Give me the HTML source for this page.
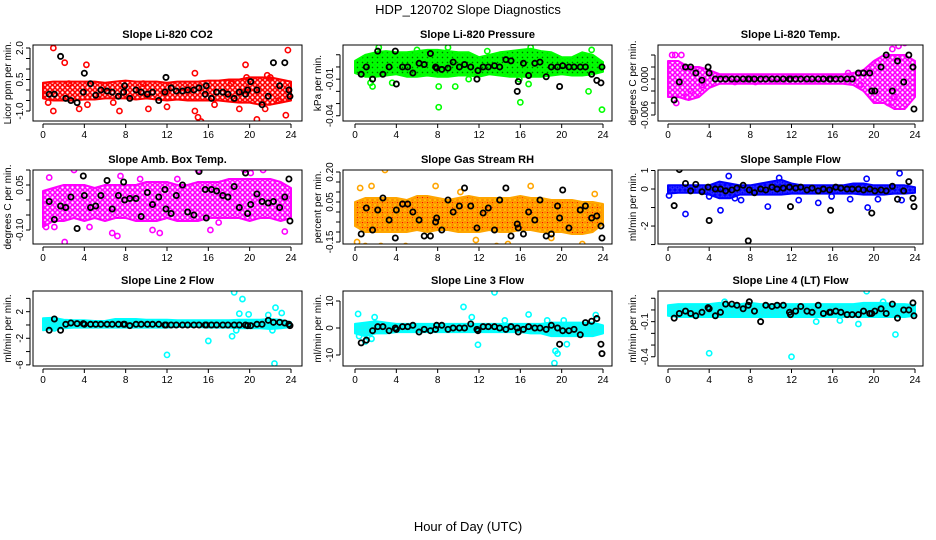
<!DOCTYPE html>
<html><head><meta charset="utf-8"><style>
html,body{margin:0;padding:0;background:#fff}
svg{display:block;font-family:"Liberation Sans",sans-serif}
</style></head><body>
<svg id="chart" width="936" height="540" viewBox="0 0 936 540" xmlns="http://www.w3.org/2000/svg">
<defs>
<pattern id="pt-red" width="5" height="5" patternUnits="userSpaceOnUse"><rect width="5" height="5" fill="#fff"/><circle cx="2.5" cy="2.5" r="2" fill="none" stroke="#ff0000" stroke-width="1.6"/></pattern>
<pattern id="pt-green" width="5" height="5" patternUnits="userSpaceOnUse"><rect width="5" height="5" fill="#00ee00"/><circle cx="2.5" cy="2.5" r="2" fill="none" stroke="#00ff00" stroke-width="1.4"/><circle cx="2.5" cy="2.5" r="0.7" fill="#006600"/></pattern>
<pattern id="pt-magenta" width="5" height="5" patternUnits="userSpaceOnUse"><rect width="5" height="5" fill="#fff"/><circle cx="2.5" cy="2.5" r="2" fill="none" stroke="#ff00ff" stroke-width="1.6"/></pattern>
<pattern id="pt-orange" width="5" height="5" patternUnits="userSpaceOnUse"><rect width="5" height="5" fill="#ffcc00"/><circle cx="2.5" cy="2.5" r="2" fill="none" stroke="#ff8c00" stroke-width="1.2"/><circle cx="2.5" cy="2.5" r="0.8" fill="#ff0000"/></pattern>
<pattern id="pt-blue" width="5" height="5" patternUnits="userSpaceOnUse"><rect width="5" height="5" fill="#0000ff"/><circle cx="2.5" cy="2.5" r="1.6" fill="none" stroke="#3333ff" stroke-width="1.2"/></pattern>
<pattern id="pt-cyan" width="5" height="5" patternUnits="userSpaceOnUse"><rect width="5" height="5" fill="#00ffff"/><circle cx="2.5" cy="2.5" r="1.5" fill="none" stroke="#22eeee" stroke-width="1"/></pattern>
</defs>
<text x="468" y="14" text-anchor="middle" font-size="13">HDP_120702  Slope Diagnostics</text>
<text x="468" y="531" text-anchor="middle" font-size="13">Hour of Day (UTC)</text>
</svg>
<script>
// shared sample hours for the black (hourly average) points
const blackHours = [0.6,1.1,1.7,2.2,2.7,3.3,3.9,4.0,4.6,5.1,5.6,6.2,6.7,7.3,7.8,7.9,8.4,9.0,9.5,10.1,10.6,11.2,11.8,11.9,12.4,12.9,13.5,14.0,14.6,15.1,15.7,15.8,16.3,16.8,17.4,17.9,18.5,19.0,19.6,19.8,20.1,20.7,21.2,21.8,22.3,22.9,23.4,23.8,23.9];
const bandHours = [0,1,2,3,4,5,6,7,8,9,10,11,12,13,14,15,16,17,18,19,20,21,22,23,24];
const xTicks = [0,4,8,12,16,20,24];

// Panel 1: CO2
const co2Lo = [-0.4,-0.5,-0.5,-0.5,-0.45,-0.45,-0.4,-0.4,-0.4,-0.45,-0.4,-0.45,-0.5,-0.45,-0.5,-0.5,-0.5,-0.5,-0.55,-0.6,-0.6,-0.7,-0.7,-0.6,-0.5];
const co2Hi = [0.35,0.4,0.4,0.4,0.4,0.4,0.35,0.4,0.45,0.4,0.4,0.4,0.35,0.4,0.4,0.4,0.45,0.45,0.5,0.5,0.6,0.6,0.6,0.5,0.4];
const co2ScX = [1.0,1.0,2.1,2.5,3.5,4.2,4.3,7.4,10.2,12.0,14.7,14.7,15.0,15.3,16.6,19.0,19.6,19.7,20.7,21.5,21.7,22.0,23.5,23.7,0.5,6.8,9.7,18.2,22.8];
const co2ScY = [2.0,-1.0,1.3,0.3,-0.9,1.2,-0.7,-1.0,-0.9,-0.8,0.8,-1.0,-1.3,-1.5,-0.7,-0.9,1.2,0.6,-1.4,-0.9,0.7,0.6,-1.2,1.9,-0.6,-0.6,0.3,0.3,-0.5];
const co2Black = [-0.2,-0.2,1.6,-0.4,-0.5,-0.6,-0.1,0.8,0.3,-0.25,0,-0.05,-0.1,-0.3,-0.1,0.2,-0.4,0,-0.1,-0.2,-0.1,-0.5,-0.1,0.6,0.1,-0.05,-0.05,0,0,0.1,-0.2,0.2,-0.4,-0.1,-0.1,-0.2,-0.4,-0.1,-0.2,0,0.4,0,-0.7,-0.3,1.3,0.2,1.3,0,-0.3];
// Panel 2: Pressure
const prLo = [-0.005,-0.008,-0.008,-0.007,-0.006,-0.008,-0.008,-0.007,-0.008,-0.008,-0.007,-0.007,-0.008,-0.006,-0.007,-0.008,-0.008,-0.008,-0.008,-0.007,-0.006,-0.007,-0.007,-0.006,-0.004];
const prHi = [0.005,0.01,0.012,0.013,0.012,0.012,0.013,0.014,0.014,0.013,0.012,0.012,0.008,0.01,0.012,0.013,0.014,0.015,0.013,0.012,0.008,0.008,0.012,0.01,0.004];
const prScX = [1.5,1.7,3.6,7.9,8.1,8.1,9.0,9.7,11.0,15.9,16.0,16.8,22.6,23.9,2.3,6.0,12.8,17.0,22.9];
const prScY = [-0.013,-0.016,-0.013,-0.048,-0.033,-0.016,0.016,-0.016,-0.01,-0.01,-0.029,-0.014,-0.02,-0.035,0.016,0.014,0.013,0.016,0.014];
const prBlack = [-0.006,0,-0.01,0.013,-0.006,0,0.013,-0.014,0,0,-0.005,0.003,0.002,0.011,0,-0.001,-0.002,-0.001,0.004,0,0.002,0,-0.01,-0.003,0,0,0.001,0,0.006,0.005,-0.02,-0.012,0.003,-0.007,0.003,0.004,-0.008,0,0,-0.016,0.001,0,0,0,0,-0.006,-0.011,-0.013,0];
// Panel 3: Temp
const tpLo = [-0.003,-0.003,-0.0035,-0.003,-0.0015,-0.0008,-0.0008,-0.0008,-0.0008,-0.0008,-0.0008,-0.0008,-0.0008,-0.0008,-0.0008,-0.0008,-0.0008,-0.0008,-0.001,-0.002,-0.004,-0.004,-0.005,-0.005,-0.003];
const tpHi = [0.003,0.003,0.002,0.002,0.0015,0.0008,0.0008,0.0008,0.0008,0.0008,0.0008,0.0008,0.0008,0.0008,0.0008,0.0008,0.0008,0.0008,0.001,0.0015,0.003,0.004,0.004,0.004,0.003];
const tpScX = [0.4,0.7,0.8,1.3,1.8,2.2,3.3,6.5,8.5,17.5,18.7,21.0,21.4,22.0,22.8,23.0,23.3,23.7,22.4,21.8];
const tpScY = [0.004,0.004,-0.004,0.004,-0.003,-0.002,-0.001,-0.0005,-0.0005,0.001,-0.001,0.008,-0.004,-0.003,-0.0095,0.006,0.007,0.007,0.0055,0.005];
const tpBlack = [-0.0035,-0.0005,0.002,0.002,0.001,-0.0002,0.002,0.001,0,0,0,0,0,0,0,0,0,0,0,0,0,0,0,0,0,0,0,0,0,0,0,0,0,0,0,0,0.001,0.001,0.001,-0.002,-0.002,0.002,0.004,-0.002,0.003,-0.0005,0.004,0.002,-0.005];
// Panel 4: Amb box temp
const abLo = [-0.09,-0.07,-0.07,-0.06,-0.07,-0.06,-0.07,-0.06,-0.06,-0.07,-0.07,-0.07,-0.06,-0.07,-0.07,-0.07,-0.06,-0.06,-0.06,-0.06,-0.07,-0.06,-0.06,-0.07,-0.06];
const abHi = [0.03,0.04,0.05,0.05,0.05,0.04,0.05,0.05,0.05,0.05,0.06,0.06,0.06,0.05,0.05,0.06,0.06,0.06,0.07,0.07,0.07,0.07,0.07,0.06,0.04];
const abScX = [0.3,0.6,2.1,3.0,4.5,6.7,7.2,10.6,11.1,11.3,15.0,16.2,19.5,20.1,21.3,23.4,1.1,7.5,13.0,17.0,9.4];
const abScY = [-0.09,0.075,-0.14,0.1,-0.09,-0.11,-0.12,-0.1,0.11,-0.11,0.1,-0.1,0.1,0.09,0.1,-0.105,-0.09,0.08,0.07,-0.075,0.07];
const abBlack = [-0.005,-0.065,-0.02,-0.025,0.01,-0.095,0.08,0.015,-0.025,-0.02,0.015,0.065,-0.03,0.015,0.06,0.0,0.005,0.005,-0.055,0.025,-0.015,0.01,0.035,-0.03,-0.045,0.015,0.05,-0.04,-0.05,0.095,0.035,-0.06,0.035,0.03,0.015,0.01,0.045,-0.025,0.09,-0.045,-0.015,0.02,-0.005,-0.01,-0.005,-0.025,0.01,0.07,-0.07];
// Panel 5: Gas stream RH
const rhLo = [-0.07,-0.1,-0.1,-0.1,-0.1,-0.1,-0.09,-0.1,-0.09,-0.09,-0.1,-0.1,-0.1,-0.09,-0.1,-0.1,-0.09,-0.09,-0.1,-0.1,-0.1,-0.11,-0.11,-0.1,-0.06];
const rhHi = [0.05,0.07,0.07,0.07,0.07,0.06,0.08,0.08,0.07,0.06,0.07,0.08,0.07,0.07,0.07,0.07,0.08,0.07,0.07,0.06,0.06,0.06,0.05,0.05,0.04];
const rhScX = [0.2,0.5,1.0,1.6,2.5,2.9,4.2,4.9,6.4,7.8,10.2,11.7,12.3,13.7,14.8,15.3,17.0,19.0,22.0,23.2];
const rhScY = [-0.15,0.12,-0.17,0.13,-0.17,0.21,-0.19,-0.17,-0.18,0.13,0.1,-0.14,-0.21,-0.17,-0.16,-0.18,0.13,-0.13,-0.16,0.09];
const rhBlack = [-0.11,0.02,-0.09,0.01,0.07,-0.04,-0.13,0.01,0.04,0.04,0,-0.04,-0.12,-0.12,-0.05,-0.03,-0.09,0.06,0.0,0.03,0.12,0.03,-0.08,-0.18,-0.005,0.02,-0.09,0.06,0.12,-0.12,-0.06,-0.08,-0.11,0.0,-0.04,0.06,-0.12,-0.11,0.03,-0.03,0.11,-0.08,-0.18,0.01,0.03,-0.03,-0.02,-0.07,-0.13];
// Panel 6: Sample flow
const sfLo = [-0.25,-0.2,-0.2,-0.2,-0.3,-0.5,-0.5,-0.3,-0.3,-0.3,-0.3,-0.3,-0.25,-0.25,-0.25,-0.25,-0.25,-0.25,-0.25,-0.3,-0.3,-0.3,-0.25,-0.25,-0.2];
const sfHi = [0.2,0.2,0.2,0.2,0.2,0.4,0.3,0.2,0.2,0.3,0.4,0.5,0.3,0.2,0.2,0.2,0.2,0.2,0.3,0.3,0.2,0.2,0.2,0.2,0.1];
const sfScX = [0.1,1.7,5.1,5.9,6.5,7.1,9.7,12.7,14.6,15.9,17.7,19.4,20.4,22.5,22.7,4.0,10.8,19.3];
const sfScY = [-0.35,-1.35,-1.15,0.7,-0.5,-0.6,-0.95,-0.6,-0.75,-0.4,-0.55,-1.0,-0.55,0.85,-0.6,-0.4,0.6,0.55];
const sfBlack = [-0.9,1.05,0.3,-0.1,0.25,-0.15,0.1,-1.7,0,0,-0.1,-0.05,0.05,0.2,-2.8,-0.05,-0.2,0,-0.05,0.1,0,0.05,0.1,-0.95,0.05,0.1,-0.05,0.05,-0.1,0,-0.05,-1.15,0.1,0.05,0,0,0,-0.05,0,-1.3,-0.1,-0.05,-0.1,0.15,-0.55,-0.1,0.4,-0.5,-0.95];
// Panel 7: Line 2 flow
const l2Lo = [-0.8,-0.6,-0.5,-0.4,-0.4,-0.4,-0.4,-0.4,-0.4,-0.4,-0.4,-0.4,-0.4,-0.3,-0.3,-0.3,-0.4,-0.4,-0.4,-0.5,-0.5,-0.5,-0.6,-0.5,-0.3];
const l2Hi = [1.0,1.1,0.8,0.7,0.7,0.6,0.6,0.9,0.9,0.9,0.8,0.8,0.8,0.7,0.7,0.7,0.7,0.7,0.7,0.8,0.8,0.8,0.9,0.8,0.4];
const l2ScX = [1.1,12.0,16.0,18.3,18.5,18.7,19.0,19.3,19.9,21.8,22.2,22.4,22.5,23.1];
const l2ScY = [-0.5,-4.5,-2.4,-1.7,4.9,-0.8,1.7,3.9,1.6,1.5,-0.8,-5.8,2.6,1.8];
const l2Black = [-0.8,0.9,-0.8,0.1,0.3,0.2,0.2,0.1,0.1,0.1,0.1,0.1,0.1,0.1,0.1,0.1,-0.1,0.1,0.1,0.1,0.1,0.1,0,0,0,0,0,0,0,0,0,0,0,0,0,0,0,0,0,-0.1,-0.1,0.1,0.1,0.7,0.4,0.4,0.3,0.1,-0.1];
// Panel 8: Line 3 flow
const l3Lo = [-2,-3,-2,-2,-1.5,-1.5,-1.5,-1.5,-1.5,-1.5,-1.5,-1.5,-1.5,-1.5,-1.5,-1.5,-1.5,-2,-2,-3,-3,-3,-3,-3,-2];
const l3Hi = [1.5,2.0,2.5,2.0,1.5,1.5,1.5,1.5,1.5,1.5,1.5,1.5,1.5,1.5,1.5,1.5,1.5,1.5,1.5,2.0,2.0,2.0,2.0,2.0,1.0];
const l3ScX = [0.3,0.4,1.0,1.6,1.9,10.5,11.3,11.9,13.5,14.5,16.8,19.3,19.4,19.6,20.2,20.5,23.3,18.6];
const l3ScY = [5.2,-3,-5,-4,4,7.8,4,-6.2,13.2,2.8,5,-13,-8.5,-9.5,2.8,-6,4.8,2.8];
const l3Black = [-5.5,-4.5,-1,0.5,0.5,-1,0,-0.5,0.5,0.5,1,-1.5,-0.5,-1,-0.5,1,1,-0.5,0,0,0,1.5,-0.5,-1,0.5,0.5,0.5,0,-0.5,0.5,0,-1.5,-0.5,0.5,0,0,-0.5,1,0,-6,-1,-1,-0.5,-2.5,2,2.5,3.5,-6,-9.5];
// Panel 9: Line 4 (LT) flow
const l4Lo = [-0.05,-0.06,-0.06,-0.06,-0.06,-0.06,-0.06,-0.06,-0.06,-0.06,-0.06,-0.06,-0.06,-0.06,-0.06,-0.06,-0.06,-0.06,-0.06,-0.06,-0.06,-0.06,-0.06,-0.06,-0.05];
const l4Hi = [0.04,0.05,0.05,0.05,0.05,0.06,0.05,0.05,0.06,0.05,0.05,0.05,0.05,0.05,0.05,0.05,0.05,0.05,0.05,0.06,0.06,0.06,0.05,0.05,0.04];
const l4ScX = [4.0,12.0,19.9,19.3,22.1,18.5,5.5,14.4,16.7,20.9];
const l4ScY = [-0.37,-0.4,-0.51,0.16,-0.21,-0.12,0.07,-0.1,-0.09,0.07];
const l4Black = [-0.07,-0.03,-0.01,-0.03,-0.05,-0.02,0.02,0.01,-0.05,-0.02,0.05,0.05,0.04,0.01,0.04,0.07,-0.01,-0.1,0.04,0.03,0.04,0.04,-0.02,-0.04,-0.01,0.03,-0.01,-0.02,0.04,-0.03,-0.02,-0.02,-0.01,-0.02,-0.04,-0.04,-0.04,-0.01,-0.03,-0.03,-0.01,0.01,-0.03,0.05,-0.07,0,0,0.06,-0.05];

// tick values / labels
const p1Ticks=[-1,-0.5,0,0.5,1,1.5,2], p1Labels=[[2,"2.0"],[0.5,"0.5"],[-1,"-1.0"]];
const p2Ticks=[-0.04,-0.03,-0.02,-0.01,0,0.01], p2Labels=[[-0.01,"-0.01"],[-0.04,"-0.04"]];
const p3Ticks=[-0.006,-0.004,-0.002,0,0.002,0.004], p3Labels=[[0,"0.000"],[-0.006,"-0.006"]];
const p4Ticks=[-0.1,-0.05,0,0.05,0.1], p4Labels=[[0.05,"0.05"],[-0.1,"-0.10"]];
const p5Ticks=[-0.15,-0.1,-0.05,0,0.05,0.1,0.15,0.2], p5Labels=[[0.2,"0.20"],[0.05,"0.05"],[-0.15,"-0.15"]];
const p6Ticks=[-3,-2,-1,0,1], p6Labels=[[1,"1"],[0,"0"],[-2,"-2"]];
const p7Ticks=[-6,-4,-2,0,2,4], p7Labels=[[2,"2"],[-2,"-2"],[-6,"-6"]];
const p8Ticks=[-10,0,10], p8Labels=[[10,"10"],[0,"0"],[-10,"-10"]];
const p9Ticks=[-0.4,-0.3,-0.2,-0.1,0,0.1], p9Labels=[[-0.1,"-0.1"],[-0.4,"-0.4"]];

const svg=document.getElementById('chart');
const NS='http://www.w3.org/2000/svg';
function mk(tag,attrs,parent){const e=document.createElementNS(NS,tag);for(const k in attrs)e.setAttribute(k,attrs[k]);(parent||svg).appendChild(e);return e;}

const cols=[{l:33,r:302,x0:43,x1:291},{l:343,r:612,x0:355,x1:603},{l:658,r:923,x0:668,x1:915}];
const rows=[{t:45,b:121},{t:170,b:244},{t:291,b:366}];
const panels=[
 {key:'co2',title:'Slope Li-820 CO2',ylab:'Licor ppm per min.',dom:[-1.476,2.143],lo:co2Lo,hi:co2Hi,sx:co2ScX,sy:co2ScY,bk:co2Black,col:'#ff0000',pat:'pt-red',ticks:p1Ticks,labels:p1Labels},
 {key:'pressure',title:'Slope Li-820 Pressure',ylab:'kPa per min.',dom:[-0.0443,0.018],lo:prLo,hi:prHi,sx:prScX,sy:prScY,bk:prBlack,col:'#00ff00',pat:'pt-green',ticks:p2Ticks,labels:p2Labels},
 {key:'temp',title:'Slope Li-820 Temp.',ylab:'degrees C per min.',dom:[-0.007,0.00567],lo:tpLo,hi:tpHi,sx:tpScX,sy:tpScY,bk:tpBlack,col:'#ff00ff',pat:'pt-magenta',ticks:p3Ticks,labels:p3Labels},
 {key:'amb-box-temp',title:'Slope Amb. Box Temp.',ylab:'degrees C per min.',dom:[-0.1467,0.1],lo:abLo,hi:abHi,sx:abScX,sy:abScY,bk:abBlack,col:'#ff00ff',pat:'pt-magenta',ticks:p4Ticks,labels:p4Labels},
 {key:'gas-rh',title:'Slope Gas Stream RH',ylab:'percent per min.',dom:[-0.16,0.21],lo:rhLo,hi:rhHi,sx:rhScX,sy:rhScY,bk:rhBlack,col:'#ffa500',pat:'pt-orange',ticks:p5Ticks,labels:p5Labels},
 {key:'sample-flow',title:'Slope Sample Flow',ylab:'ml/min per min.',dom:[-2.97,1.027],lo:sfLo,hi:sfHi,sx:sfScX,sy:sfScY,bk:sfBlack,col:'#0000ff',pat:'pt-blue',ticks:p6Ticks,labels:p6Labels},
 {key:'line2-flow',title:'Slope Line 2 Flow',ylab:'ml/min per min.',dom:[-6.17,5.11],lo:l2Lo,hi:l2Hi,sx:l2ScX,sy:l2ScY,bk:l2Black,col:'#00ffff',pat:'pt-cyan',ticks:p7Ticks,labels:p7Labels},
 {key:'line3-flow',title:'Slope Line 3 Flow',ylab:'ml/min per min.',dom:[-14.07,13.7],lo:l3Lo,hi:l3Hi,sx:l3ScX,sy:l3ScY,bk:l3Black,col:'#00ffff',pat:'pt-cyan',ticks:p8Ticks,labels:p8Labels},
 {key:'line4-flow',title:'Slope Line 4 (LT) Flow',ylab:'ml/min per min.',dom:[-0.479,0.162],lo:l4Lo,hi:l4Hi,sx:l4ScX,sy:l4ScY,bk:l4Black,col:'#00ffff',pat:'pt-cyan',ticks:p9Ticks,labels:p9Labels}
];

panels.forEach((p,i)=>{
 const c=cols[i%3], r=rows[Math.floor(i/3)];
 const X=h=>c.x0+(h/24)*(c.x1-c.x0);
 const Y=v=>r.b-(v-p.dom[0])/(p.dom[1]-p.dom[0])*(r.b-r.t);
 const g=mk('g',{});
 
 
 const clip=mk('clipPath',{id:'clip'+i},g);
 mk('rect',{x:c.l,y:r.t,width:c.r-c.l,height:r.b-r.t},clip);
 const data=mk('g',{'clip-path':'url(#clip'+i+')'},g);
 let d='';
 bandHours.forEach((h,k)=>{d+=(k?'L':'M')+X(h).toFixed(1)+','+Y(p.hi[k]).toFixed(1);});
 for(let k=bandHours.length-1;k>=0;k--) d+='L'+X(bandHours[k]).toFixed(1)+','+Y(p.lo[k]).toFixed(1);
 const band=mk('path',{d:d+'Z',fill:'url(#'+p.pat+')',stroke:p.col,'stroke-width':2,'stroke-linejoin':'round'},data);
 
 
 p.sx.forEach((h,k)=>{
  const e=mk('circle',{cx:X(h),cy:Y(p.sy[k]),r:2.6,fill:'none',stroke:p.col,'stroke-width':1.6},data);
  
  
 });
 const n=Math.min(blackHours.length,p.bk.length);
 for(let k=0;k<n;k++){
  const e=mk('circle',{cx:X(blackHours[k]),cy:Y(p.bk[k]),r:2.6,fill:'none',stroke:'#000','stroke-width':1.8},data);
  
  
 }
 const box=mk('rect',{x:c.l,y:r.t,width:c.r-c.l,height:r.b-r.t,fill:'none',stroke:'#000','stroke-width':1},g);
 
 
 mk('line',{x1:X(0),x2:X(24),y1:r.b+3,y2:r.b+3,stroke:'#000'},g);
 xTicks.forEach(t=>{
  mk('line',{x1:X(t),x2:X(t),y1:r.b+3,y2:r.b+7,stroke:'#000'},g);
  const tx=mk('text',{x:X(t),y:r.b+17,'text-anchor':'middle','font-size':10},g);
  tx.textContent=t;
  
  
 });
 const ax=c.l-3;
 mk('line',{x1:ax,x2:ax,y1:Y(p.ticks[0]),y2:Y(p.ticks[p.ticks.length-1]),stroke:'#000'},g);
 p.ticks.forEach(t=>mk('line',{x1:ax-4,x2:ax,y1:Y(t),y2:Y(t),stroke:'#000'},g));
 p.labels.forEach(([v,s])=>{
  const tx=mk('text',{x:0,y:0,'text-anchor':'middle','font-size':10,transform:`translate(${ax-7},${Y(v)}) rotate(-90)`},g);
  tx.textContent=s;
  
  
 });
 const yl=mk('text',{x:0,y:0,'text-anchor':'middle','font-size':10,transform:`translate(${c.l-22},${(r.t+r.b)/2}) rotate(-90)`},g);
 yl.textContent=p.ylab;
 
 
 const tt=mk('text',{x:(c.l+c.r)/2,y:r.t-7,'text-anchor':'middle','font-size':11,'font-weight':'bold'},g);
 tt.textContent=p.title;
 
 
});
</script>
</body></html>
